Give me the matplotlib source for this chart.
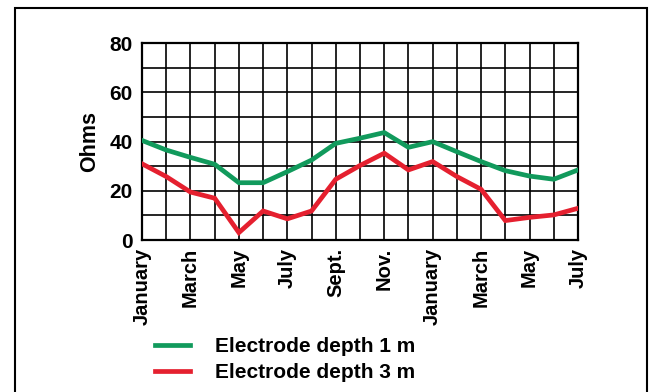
import numpy as np
import matplotlib.pyplot as plt
from matplotlib.patches import Rectangle

plt.rcParams['font.family'] = ['Liberation Sans', 'DejaVu Sans']
plt.rcParams['font.weight'] = 'bold'

# Monthly readings, January through July of the following year
months = ["January", "", "March", "", "May", "", "July", "", "Sept.", "",
          "Nov.", "", "January", "", "March", "", "May", "", "July"]
depth_1m = [40.5, 36.6, 33.6, 30.8, 23.3, 23.3, 27.8, 32.5, 39.3, 41.4,
            43.7, 37.7, 40.0, 35.9, 31.9, 28.2, 26.0, 24.7, 28.5]
depth_3m = [31.0, 25.8, 19.5, 17.0, 3.0, 11.8, 8.6, 11.8, 24.7, 30.3,
            35.3, 28.5, 31.9, 25.8, 20.6, 7.9, 9.2, 10.2, 12.9]
y_ticks = [0, 10, 20, 30, 40, 50, 60, 70, 80]
y_labels = ["0", "", "20", "", "40", "", "60", "", "80"]

green = "#119a5c"
red = "#e5202f"

fig = plt.figure(figsize=(6.55, 3.92), dpi=100)
fig.patch.set_facecolor("white")

# outer frame around the whole picture
fig.patches.append(Rectangle((15 / 655, -0.05), (647 - 15) / 655, 1 - 8 / 392 + 0.05,
                             transform=fig.transFigure, fill=False,
                             edgecolor="black", linewidth=1.5))

ax = fig.add_axes([142 / 655, 1 - 240 / 392, 436 / 655, (240 - 43.3) / 392])

x = np.arange(len(months))
ax.plot(x, depth_1m, color=green, linewidth=3.4, solid_joinstyle="miter",
        label="Electrode depth 1 m", zorder=3)
ax.plot(x, depth_3m, color=red, linewidth=3.4, solid_joinstyle="miter",
        label="Electrode depth 3 m", zorder=3)

ax.set_xlim(0, len(months) - 1)
ax.set_ylim(0, 80)
ax.set_xticks(x)
ax.set_xticklabels(months, rotation=90, fontsize=14.5, fontweight="bold")
ax.set_yticks(y_ticks)
ax.set_yticklabels(y_labels, fontsize=15, fontweight="bold")
ax.tick_params(length=0)
ax.tick_params(axis="x", pad=5.5)
ax.tick_params(axis="y", pad=6.5)
ax.grid(True, color="black", linewidth=1.2)
for s in ax.spines.values():
    s.set_linewidth(1.6)
ax.set_ylabel("Ohms", fontsize=15.5, fontweight="bold", labelpad=7)

leg = fig.legend(loc="upper left", bbox_to_anchor=(155 / 655, 1 - 337 / 392),
                 frameon=False, fontsize=15, handlelength=1.7,
                 handletextpad=1.2, labelspacing=0.36, borderpad=0,
                 borderaxespad=0)
for t in leg.get_texts():
    t.set_fontweight("bold")

fig.savefig("out.png", dpi=100)
